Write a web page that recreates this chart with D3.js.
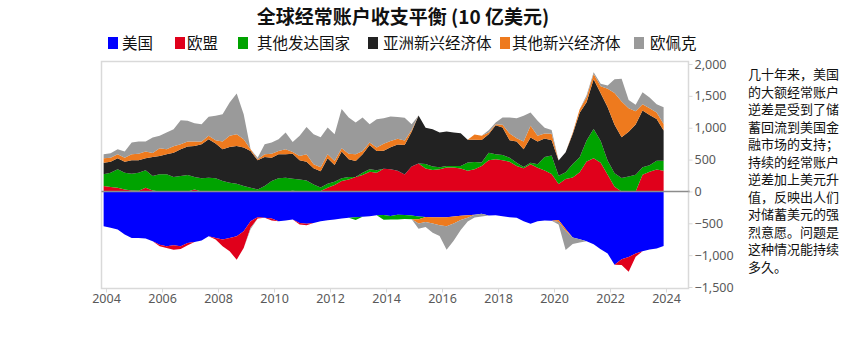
<!DOCTYPE html>
<meta charset="utf-8">
<html>
<head>
  <script src="https://d3js.org/d3.v7.min.js"></script>
  <style>
    body { margin: 0; background: #fff; }
    text { font-family: "Noto Sans", "Noto Sans CJK SC", sans-serif; }
    .cjk { font-family: "Noto Sans CJK SC", sans-serif; }
  </style>
</head>
<body>
<svg width="850" height="352"></svg>
<script>
// quarterly points, Dec 2003 .. Dec 2023 (10 亿美元)
var quarters = d3.timeMonth.range(new Date(2003, 11, 1), new Date(2024, 0, 1), 3);

var usa = [-546,-572,-599,-677,-730,-730,-740,-782,-835,-861,
  -845,-861,-809,-793,-772,-704,-730,-756,-730,-704,
  -625,-467,-404,-415,-425,-467,-457,-441,-494,-509,
  -494,-467,-452,-441,-425,-415,-404,-399,-389,-373,
  -370,-385,-365,-368,-378,-395,-400,-405,-405,-405,
  -395,-380,-373,-365,-352,-378,-373,-389,-404,-415,
  -467,-509,-467,-455,-460,-450,-590,-725,-750,-780,
  -830,-908,-975,-1150,-1066,-1030,-975,-940,-910,-895,
  -856];
var eu = [84,68,58,32,16,10,58,16,-26,-26,
  -69,-42,-36,32,0,0,-26,-105,-210,-367,
  -262,-105,-21,0,-32,0,0,10,-26,-21,
  0,5,58,100,163,189,226,257,310,294,
  357,350,323,265,390,440,360,335,350,375,
  375,360,323,350,400,488,504,488,467,399,
  362,425,373,330,275,115,195,220,300,470,
  520,450,260,75,-90,-230,-50,260,310,345,
  326];
var otherAdvanced = [184,226,289,262,262,284,273,226,268,268,
  226,242,257,194,205,215,205,163,137,121,
  84,58,32,84,163,205,215,189,189,173,
  110,58,63,52,42,37,-45,37,37,37,
  -75,-55,-75,-65,-60,-40,70,55,30,26,
  26,40,130,110,53,121,79,84,63,53,
  21,27,52,210,290,130,105,210,235,330,
  460,340,220,210,210,235,260,120,100,135,
  157];
var asiaEmerging = [184,173,173,173,210,194,189,299,289,315,
  383,420,447,488,535,604,546,499,561,593,
  604,577,456,457,367,378,368,394,299,294,
  252,252,399,263,420,278,252,289,383,304,
  280,345,415,465,545,750,570,585,545,540,
  525,515,360,350,355,289,457,431,273,330,
  279,393,357,290,240,240,315,470,700,600,
  780,750,840,760,640,700,790,890,790,655,
  472];
var otherEmerging = [68,63,63,63,95,105,105,63,120,79,
  100,78,78,68,42,53,52,120,174,184,
  131,27,16,42,63,52,79,26,69,116,
  63,63,63,63,52,89,105,52,37,53,
  110,95,90,70,30,-70,-80,-100,-125,-140,
  -110,-70,-40,85,65,26,15,42,105,53,
  120,184,90,80,100,-30,-30,20,55,80,
  85,110,290,500,560,370,210,100,105,105,
  105];
var opec = [63,69,79,95,184,189,157,241,195,262,
  268,378,326,289,273,299,384,431,525,640,
  394,-20,26,157,174,184,262,158,315,430,
  473,472,420,420,615,567,499,525,288,446,
  400,385,340,355,90,-80,-78,-145,-170,-370,
  -270,-155,-58,-45,-40,37,27,115,252,315,
  405,210,236,90,60,-40,-300,-100,-50,30,
  26,40,52,215,360,130,100,185,170,130,
  263];

var seriesNames = ["美国", "欧盟", "其他发达国家", "亚洲新兴经济体", "其他新兴经济体", "欧佩克"];
var seriesColors = ["#0000ff", "#e0001b", "#00a300", "#222222", "#ee7a1e", "#9a9a9a"];
var yTicks = [2000, 1500, 1000, 500, 0, -500, -1000, -1500];
var xTickYears = d3.range(2004, 2025, 2);
var noteLines = ["几十年来，美国", "的大额经常账户", "逆差是受到了储", "蓄回流到美国金",
  "融市场的支持；", "持续的经常账户", "逆差加上美元升", "值，反映出人们",
  "对储蓄美元的强", "烈意愿。问题是", "这种情况能持续", "多久。"];

var svg = d3.select("svg");

// build rows for the stack
var allSeries = [usa, eu, otherAdvanced, asiaEmerging, otherEmerging, opec];
var rows = quarters.map(function (d, i) {
  var r = { date: d };
  seriesNames.forEach(function (n, k) { r[n] = allSeries[k][i]; });
  return r;
});

// surpluses stack upward, deficits stack downward (kept apart so bands never cross)
var posLayers = d3.stack().keys(seriesNames)
  .value(function (d, k) { return Math.max(d[k], 0); })(rows);
var negLayers = d3.stack().keys(seriesNames)
  .value(function (d, k) { return Math.min(d[k], 0); })(rows);

var x = d3.scaleTime()
  .domain([new Date(2004, 0, 1), new Date(2024, 0, 1)])
  .range([106, 666]);
var y = d3.scaleLinear().domain([-1500, 2000]).range([287, 64]);

// plot frame
svg.append("rect")
  .attr("x", 101.5).attr("y", 61.5)
  .attr("width", 587).attr("height", 227)
  .attr("fill", "none").attr("stroke", "#d9d9d9").attr("stroke-width", 1.5);

var area = d3.area()
  .x(function (d) { return x(d.data.date); })
  .y0(function (d) { return y(d[0]); })
  .y1(function (d) { return y(d[1]); });

var areas = svg.append("g");
[posLayers, negLayers].forEach(function (layers) {
  areas.append("g")
    .selectAll("path")
    .data(layers)
    .enter().append("path")
    .attr("d", area)
    .attr("fill", function (d, i) { return seriesColors[i]; });
});

// zero line
svg.append("line")
  .attr("x1", 101.5).attr("x2", 690)
  .attr("y1", y(0)).attr("y2", y(0))
  .attr("stroke", "#8c8c8c").attr("stroke-width", 1.5);

// right axis
var yAxis = d3.axisRight(y)
  .tickValues(yTicks)
  .tickSize(4)
  .tickFormat(d3.format(","));
var ya = svg.append("g")
  .attr("transform", "translate(688.5,0)")
  .call(yAxis);
ya.select(".domain").remove();
ya.selectAll("line").attr("stroke", "#d9d9d9");
ya.selectAll("text")
  .attr("x", 6)
  .attr("fill", "#595959")
  .style("font-size", "12.5px");

// bottom axis
var xAxis = d3.axisBottom(x)
  .tickValues(xTickYears.map(function (yr) { return new Date(yr, 0, 1); }))
  .tickSize(4)
  .tickFormat(d3.timeFormat("%Y"));
var xa = svg.append("g")
  .attr("transform", "translate(0,288.5)")
  .call(xAxis);
xa.select(".domain").remove();
xa.selectAll("line").attr("stroke", "#d9d9d9");
xa.selectAll("text")
  .attr("y", 6)
  .attr("fill", "#595959")
  .style("font-size", "12.5px");

// title
svg.append("text")
  .attr("class", "cjk")
  .attr("x", 403).attr("y", 24)
  .attr("text-anchor", "middle")
  .style("font-size", "19px")
  .style("font-weight", "bold")
  .attr("fill", "#111")
  .text("全球经常账户收支平衡 (10 亿美元)");

// legend
var legendSwatchX = [108, 175, 238, 368, 500, 634];
var legendTextX = [122, 187, 257, 383, 512, 650];
var legend = svg.append("g");
seriesNames.forEach(function (n, i) {
  legend.append("rect")
    .attr("x", legendSwatchX[i]).attr("y", 37)
    .attr("width", 10).attr("height", 12)
    .attr("fill", seriesColors[i]);
  legend.append("text")
    .attr("class", "cjk")
    .attr("x", legendTextX[i]).attr("y", 49)
    .style("font-size", "15.5px")
    .attr("fill", "#111")
    .text(n);
});

// side note
var note = svg.append("text")
  .attr("class", "cjk")
  .attr("x", 748).attr("y", 79)
  .style("font-size", "13px")
  .attr("fill", "#111");
note.selectAll("tspan")
  .data(noteLines)
  .enter().append("tspan")
  .attr("x", 748)
  .attr("dy", function (d, i) { return i === 0 ? 0 : 17.5; })
  .text(function (d) { return d; });
</script>
</body>
</html>
